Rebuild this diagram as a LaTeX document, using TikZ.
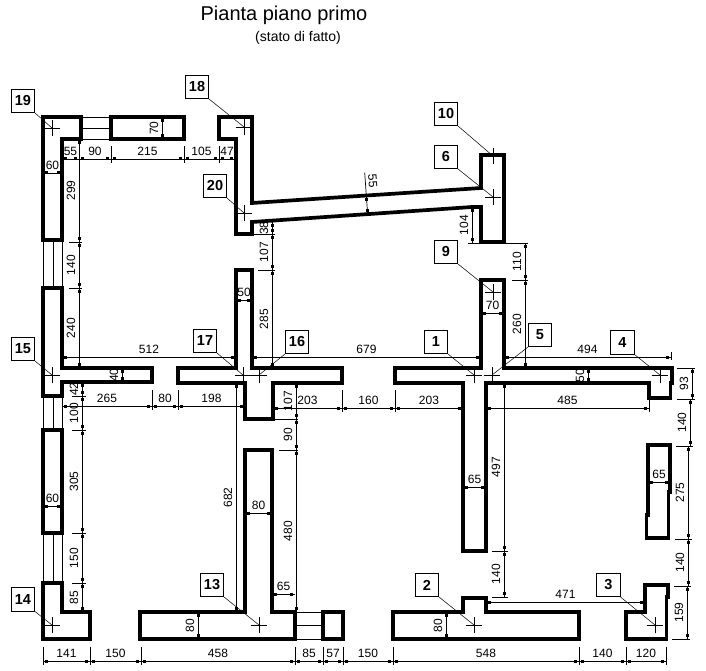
\documentclass[tikz,border=0pt]{standalone}
\usepackage{fontspec}
\usepackage{tikz}
\usetikzlibrary{shapes.misc}
\setmainfont{Liberation Sans}

\tikzset{
	wall/.style={line width=3.7pt, miter limit=10},
	opening/.style={line width=0.7pt},
	dimline/.style={line width=0.7pt},
	dimlab/.style={inner sep=0pt, font=\fontsize{12}{14}\selectfont},
	tag/.style={draw, line width=0.6pt, fill=white, inner sep=0pt, minimum size=23.5pt, font=\fontsize{14.5}{16}\selectfont\bfseries},
	plus/.style={draw, cross out, rotate=45, line width=0.6pt, inner sep=0pt, minimum size=11.3pt},
	leader/.style={line width=0.5pt}
}

\newcount\dimno
\newcommand{\dimdot}[2]{\fill ({#1-1.5},{#2-1.5}) rectangle ({#1+1.5},{#2+1.5});}
% horizontal: x1, x2, y, text
\newcommand{\dimh}[4]{%
	\global\advance\dimno by 1
	\draw[dimline] (#1,#3) -- (#2,#3);
	\dimdot{#1+3.7}{#3}
	\dimdot{#2-3.7}{#3}
	\node[dimlab] (dim\the\dimno) at ({(#1+#2)/2},{#3-7.5}) {#4};
}
% vertical: x, y1, y2, text
\newcommand{\dimv}[4]{%
	\global\advance\dimno by 1
	\draw[dimline] (#1,#2) -- (#1,#3);
	\dimdot{#1}{#2+3.7}
	\dimdot{#1}{#3-3.7}
	\node[dimlab, rotate=90] (dim\the\dimno) at ({#1-8},{(#2+#3)/2}) {#4};
}

\begin{document}
\begin{tikzpicture}[x=1pt, y=-1pt]
	\useasboundingbox (0,0) rectangle (706,671);

	\node[inner sep=0pt, font=\fontsize{20}{24}\selectfont] (title) at (284,15.5) {Pianta piano primo};
	\node[inner sep=0pt, font=\fontsize{14}{16}\selectfont] (subtitle) at (298,38) {(stato di fatto)};

	% openings
	\draw[opening] (81,117) -- (111,117);
	\draw[opening] (81,128) -- (111,128);
	\draw[opening] (81,139) -- (111,139);
	\draw[opening] (43,240) -- (43,288);
	\draw[opening] (53,240) -- (53,288);
	\draw[opening] (62,240) -- (62,288);
	\draw[opening] (43,396) -- (43,430);
	\draw[opening] (53,396) -- (53,430);
	\draw[opening] (62,396) -- (62,430);
	\draw[opening] (43,533) -- (43,583);
	\draw[opening] (53,533) -- (53,583);
	\draw[opening] (62,533) -- (62,583);
	\draw[opening] (295,612) -- (323,612);
	\draw[opening] (295,625) -- (323,625);
	\draw[opening] (295,639) -- (323,639);

	% walls
	\draw[wall] (43,117) -- (81,117) -- (81,139) -- (62,139) -- (62,240) -- (43,240) -- cycle;
	\draw[wall] (111,117) -- (184,117) -- (184,139) -- (111,139) -- cycle;
	\draw[wall] (219,117) -- (252,117) -- (252,203) -- (481,188) -- (481,155) -- (504,155) -- (504,242) -- (481,242) -- (481,207) -- (472,207) -- (252,222) -- (252,234) -- (236,234) -- (236,139) -- (219,139) -- cycle;
	\draw[wall] (43,288) -- (62,288) -- (62,368) -- (152,368) -- (152,382) -- (62,382) -- (62,396) -- (43,396) -- cycle;
	\draw[wall] (43,430) -- (62,430) -- (62,533) -- (43,533) -- cycle;
	\draw[wall] (43,583) -- (62,583) -- (62,612) -- (90,612) -- (90,639) -- (43,639) -- cycle;
	\draw[wall] (178,368) -- (236,368) -- (236,270) -- (252,270) -- (252,368) -- (342,368) -- (342,383) -- (273,383) -- (273,419) -- (245,419) -- (245,383) -- (178,383) -- cycle;
	\draw[wall] (245,450) -- (272,450) -- (272,612) -- (295,612) -- (295,639) -- (140,639) -- (140,612) -- (245,612) -- cycle;
	\draw[wall] (323,612) -- (343,612) -- (343,639) -- (323,639) -- cycle;
	\draw[wall] (395,368) -- (481,368) -- (481,280) -- (504,280) -- (504,368) -- (672,368) -- (672,383) -- (670.5,383) -- (670.5,398) -- (649,398) -- (649,383) -- (486,383) -- (486,551) -- (463,551) -- (463,383) -- (395,383) -- cycle;
	\draw[wall] (648,445) -- (670,445) -- (670,492) -- (668.5,492) -- (668.5,538) -- (646.5,538) -- (646.5,515) -- (648,515) -- cycle;
	\draw[wall] (393,612) -- (463,612) -- (463,598) -- (486,598) -- (486,612) -- (579,612) -- (579,639) -- (393,639) -- cycle;
	\draw[wall] (626,612) -- (645,612) -- (645,585) -- (668,585) -- (668,597) -- (666.5,597) -- (666.5,639) -- (626,639) -- cycle;

	% extension lines
	\draw[dimline] (111,146) -- (111,163);
	\draw[dimline] (184,146) -- (184,163);
	\draw[dimline] (219,146) -- (219,163);
	\draw[dimline] (69,242) -- (82,242);
	\draw[dimline] (69,288) -- (82,288);
	\draw[dimline] (152,390) -- (152,410);
	\draw[dimline] (178,390) -- (178,410);
	\draw[dimline] (72,396) -- (86,396);
	\draw[dimline] (72,430) -- (86,430);
	\draw[dimline] (72,533) -- (86,533);
	\draw[dimline] (72,583) -- (86,583);
	\draw[dimline] (258,270) -- (275,270);
	\draw[dimline] (252,234) -- (275,234);
	\draw[dimline] (273,419) -- (298,419);
	\draw[dimline] (279,450) -- (298,450);
	\draw[dimline] (342,390) -- (342,412);
	\draw[dimline] (395,390) -- (395,412);
	\draw[dimline] (649,398) -- (649,412);
	\draw[dimline] (671,352) -- (671,360);
	\draw[dimline] (468,243) -- (481,243);
	\draw[dimline] (504,243) -- (528,243);
	\draw[dimline] (512,280) -- (528,280);
	\draw[dimline] (492,551) -- (508,551);
	\draw[dimline] (492,597) -- (508,597);
	\draw[dimline] (677,368) -- (695,368);
	\draw[dimline] (677,399) -- (695,399);
	\draw[dimline] (676,446) -- (693,446);
	\draw[dimline] (675,539) -- (692,539);
	\draw[dimline] (674,586) -- (691,586);
	\draw[dimline] (672,639) -- (690,639);
	\draw[dimline] (43,647) -- (43,665);
	\draw[dimline] (90,647) -- (90,665);
	\draw[dimline] (141,647) -- (141,665);
	\draw[dimline] (295,647) -- (295,665);
	\draw[dimline] (323,647) -- (323,665);
	\draw[dimline] (343,647) -- (343,665);
	\draw[dimline] (393,647) -- (393,665);
	\draw[dimline] (579,647) -- (579,665);
	\draw[dimline] (626,647) -- (626,665);
	\draw[dimline] (666,647) -- (666,665);

	% horizontal dimensions
	\dimh{62}{79}{159}{55}
	\dimh{79}{111}{159}{90}
	\dimh{111}{184}{159}{215}
	\dimh{184}{219}{159}{105}
	\dimh{219}{235}{159}{47}
	\dimh{43}{62}{173}{60}
	\dimh{236}{252}{300}{50}
	\dimh{481}{504}{313}{70}
	\dimh{62}{236}{357}{512}
	\dimh{252}{481}{357}{679}
	\dimh{504}{671}{357}{494}
	\dimh{62}{152}{406}{265}
	\dimh{152}{178}{406}{80}
	\dimh{178}{245}{406}{198}
	\dimh{273}{342}{408}{203}
	\dimh{342}{395}{408}{160}
	\dimh{395}{463}{408}{203}
	\dimh{486}{649}{408}{485}
	\dimh{648}{670}{482}{65}
	\dimh{463}{486}{487}{65}
	\dimh{43}{62}{506}{60}
	\dimh{245}{272}{513}{80}
	\dimh{272}{295}{594}{65}
	\dimh{486}{645}{602}{471}
	\dimh{43}{90}{661}{141}
	\dimh{90}{141}{661}{150}
	\dimh{141}{295}{661}{458}
	\dimh{295}{323}{661}{85}
	\dimh{323}{343}{661}{57}
	\dimh{343}{393}{661}{150}
	\dimh{393}{579}{661}{548}
	\dimh{579}{626}{661}{140}
	\dimh{626}{666}{661}{120}

	% vertical dimensions
	\dimv{162}{117}{139}{70}
	\dimv{79}{139}{242}{299}
	\dimv{79}{242}{288}{140}
	\dimv{79}{288}{368}{240}
	\dimv{122}{368}{382}{40}
	\dimv{82}{382}{396}{42}
	\dimv{82}{396}{430}{100}
	\dimv{82}{430}{533}{305}
	\dimv{82}{533}{583}{150}
	\dimv{82}{583}{612}{85}
	\dimv{236}{383}{612}{682}
	\dimv{198}{612}{639}{80}
	\dimv{272}{222}{234}{38}
	\dimv{272}{234}{270}{107}
	\dimv{272}{270}{368}{285}
	\dimv{296}{383}{419}{107}
	\dimv{296}{419}{450}{90}
	\dimv{296}{450}{612}{480}
	\dimv{472}{207}{243}{104}
	\dimv{525}{243}{280}{110}
	\dimv{525}{280}{368}{260}
	\dimv{588}{368}{383}{50}
	\dimv{504}{383}{551}{497}
	\dimv{504}{551}{597}{140}
	\dimv{446}{612}{639}{80}
	\dimv{692}{368}{399}{93}
	\dimv{690}{399}{446}{140}
	\dimv{688}{446}{539}{275}
	\dimv{688}{539}{586}{140}
	\dimv{687}{586}{639}{159}

	% slanted dimension
	\draw[dimline] (364.7,172.7) -- (367.7,215);
	\dimdot{366.7}{199.3}
	\dimdot{367.7}{210.7}
	\node[dimlab, rotate=-85] (wallthick) at (372.7,181) {55};

	% reference points
	\node[plus] (p1) at (474,375) {};
	\node[plus] (p2) at (474,625) {};
	\node[plus] (p3) at (655,625) {};
	\node[plus] (p4) at (660,375) {};
	\node[plus] (p5) at (492,375) {};
	\node[plus] (p6) at (493,197) {};
	\node[plus] (p9) at (493,292) {};
	\node[plus] (p10) at (493,156) {};
	\node[plus] (p13) at (259,625) {};
	\node[plus] (p14) at (52,625) {};
	\node[plus] (p15) at (52,375) {};
	\node[plus] (p16) at (259,375) {};
	\node[plus] (p17) at (243,375) {};
	\node[plus] (p18) at (244,127) {};
	\node[plus] (p19) at (52,128) {};
	\node[plus] (p20) at (244,213) {};

	% numbered tags
	\node[tag] (t1) at (436,342) {1};
	\node[tag] (t2) at (427,585) {2};
	\node[tag] (t3) at (608.5,585) {3};
	\node[tag] (t4) at (622.5,342.5) {4};
	\node[tag] (t5) at (540,335) {5};
	\node[tag] (t6) at (446,157) {6};
	\node[tag] (t9) at (446,252) {9};
	\node[tag] (t10) at (446,114) {10};
	\node[tag] (t13) at (212,585) {13};
	\node[tag] (t14) at (23,599.5) {14};
	\node[tag] (t15) at (23,349) {15};
	\node[tag] (t16) at (297,342) {16};
	\node[tag] (t17) at (205,341) {17};
	\node[tag] (t18) at (197,87) {18};
	\node[tag] (t19) at (23,101) {19};
	\node[tag] (t20) at (215,186) {20};

	\draw[leader] (t1.south east) -- (p1.center);
	\draw[leader] (t2.south east) -- (p2.center);
	\draw[leader] (t3.south east) -- (p3.center);
	\draw[leader] (t4.south east) -- (p4.center);
	\draw[leader] (t5.south west) -- (p5.center);
	\draw[leader] (t6.south east) -- (p6.center);
	\draw[leader] (t9.south east) -- (p9.center);
	\draw[leader] (t10.south east) -- (p10.center);
	\draw[leader] (t13.south east) -- (p13.center);
	\draw[leader] (t14.south east) -- (p14.center);
	\draw[leader] (t15.south east) -- (p15.center);
	\draw[leader] (t16.south west) -- (p16.center);
	\draw[leader] (t17.south east) -- (p17.center);
	\draw[leader] (t18.south east) -- (p18.center);
	\draw[leader] (t19.south east) -- (p19.center);
	\draw[leader] (t20.south east) -- (p20.center);
\end{tikzpicture}
\end{document}
